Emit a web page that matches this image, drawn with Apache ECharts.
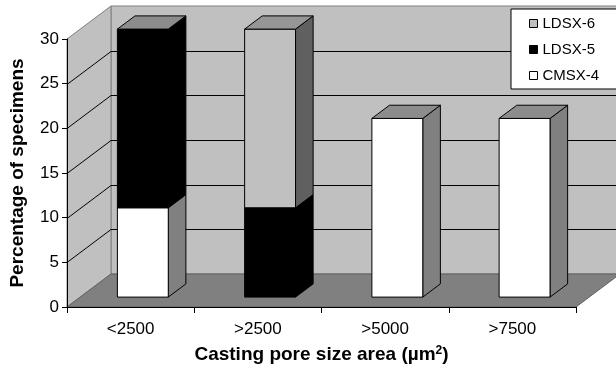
<!DOCTYPE html>
<html>
<head>
<meta charset="utf-8">
<script src="https://cdn.jsdelivr.net/npm/echarts@6/dist/echarts.min.js"></script>
<style>html,body{margin:0;padding:0;background:#fff;}#c{width:616px;height:371px;}</style>
</head>
<body>
<div id="c"></div>
<script>
const categories = ['<2500', '>2500', '>5000', '>7500'];
const cmsx4 = [10, 0, 20, 20];
const ldsx5 = [20, 10, 0, 0];
const ldsx6 = [0, 20, 0, 0];
const yTicks = [0, 5, 10, 15, 20, 25, 30];

const FONT = '"Liberation Sans", Arial, sans-serif';
const DX = 44, DY = -33;      // depth offset of back wall
const F1 = 0.3, F2 = 0.7;     // bar depth position (fraction of full depth)
const BAR_FRAC = 0.4;

const seriesDefs = [
  { name: 'CMSX-4', values: cmsx4, front: '#ffffff', side: '#808080', top: '#8c8c8c' },
  { name: 'LDSX-5', values: ldsx5, front: '#000000', side: '#000000', top: '#8c8c8c' },
  { name: 'LDSX-6', values: ldsx6, front: '#c0c0c0', side: '#606060', top: '#969696' }
];

// stacking
const totals = categories.map((c, i) => seriesDefs.reduce((s, d) => s + d.values[i], 0));
const bases = categories.map(() => 0);
const stacked = seriesDefs.map(d => {
  const data = [];
  categories.forEach((c, i) => {
    const v = d.values[i];
    if (v > 0) {
      const b = bases[i];
      const t = b + v;
      data.push([i, b, t, t >= totals[i] ? 1 : 0]);
      bases[i] = t;
    }
  });
  return data;
});

function wallRender(params, api) {
  const cs = params.coordSys;
  const x0 = cs.x, x1 = cs.x + cs.width;
  const yMin = api.coord([0, yTicks[0]])[1];
  const yMax = api.coord([0, yTicks[yTicks.length - 1]])[1];
  const children = [];
  children.push({ type: 'polygon', shape: { points: [[x0 + DX, yMin + DY], [x1 + DX, yMin + DY], [x1 + DX, yMax + DY], [x0 + DX, yMax + DY]] }, style: { fill: '#c0c0c0', stroke: '#808080', lineWidth: 1 } });
  children.push({ type: 'polygon', shape: { points: [[x0, yMin], [x0, yMax], [x0 + DX, yMax + DY], [x0 + DX, yMin + DY]] }, style: { fill: '#c0c0c0', stroke: '#808080', lineWidth: 1 } });
  children.push({ type: 'polygon', shape: { points: [[x0, yMin], [x1, yMin], [x1 + DX, yMin + DY], [x0 + DX, yMin + DY]] }, style: { fill: '#808080', stroke: '#606060', lineWidth: 1 } });
  yTicks.slice(1, yTicks.length - 1).forEach(v => {
    const y = Math.round(api.coord([0, v])[1]) + 0.5;
    children.push({ type: 'polyline', shape: { points: [[x0, y], [x0 + DX, y + DY], [x1 + DX, y + DY]] }, style: { stroke: '#000', lineWidth: 1, fill: null } });
  });
  return { type: 'group', children: children };
}

function makeBarRender(def) {
  return function (params, api) {
    const i = api.value(0), b = api.value(1), t = api.value(2), isTop = api.value(3);
    const p0 = api.coord([i, b]);
    const p1 = api.coord([i, t]);
    const bw = api.size([1, 0])[0] * BAR_FRAC;
    const cx = p0[0] + F1 * DX - 1;
    const yb = p0[1] + F1 * DY;
    const yt = p1[1] + F1 * DY;
    const xl = cx - bw / 2, xr = cx + bw / 2;
    const ddx = (F2 - F1) * DX, ddy = (F2 - F1) * DY;
    const st = { stroke: '#000', lineWidth: 1 };
    const children = [
      { type: 'polygon', shape: { points: [[xr, yb], [xr, yt], [xr + ddx, yt + ddy], [xr + ddx, yb + ddy]] }, style: Object.assign({ fill: def.side }, st) },
      { type: 'rect', shape: { x: xl, y: yt, width: bw, height: yb - yt }, style: Object.assign({ fill: def.front }, st) }
    ];
    if (isTop) {
      children.push({ type: 'polygon', shape: { points: [[xl, yt], [xr, yt], [xr + ddx, yt + ddy], [xl + ddx, yt + ddy]] }, style: Object.assign({ fill: def.top }, st) });
    }
    return { type: 'group', children: children };
  };
}

const series = [{
  type: 'custom', name: 'walls', z: 1, clip: false, silent: true,
  renderItem: wallRender, data: [[0, 0]]
}];
seriesDefs.forEach((d, k) => {
  series.push({
    type: 'custom', name: d.name, z: 2 + k, clip: false,
    itemStyle: { color: d.front, borderColor: '#000', borderWidth: 1 },
    renderItem: makeBarRender(d), data: stacked[k]
  });
});

const chart = echarts.init(document.getElementById('c'), null, { renderer: 'canvas' });
chart.setOption({
  animation: false,
  backgroundColor: '#fff',
  grid: { left: 63, right: 40, top: 39, bottom: 64 },
  legend: {
    data: ['LDSX-6', 'LDSX-5', 'CMSX-4'],
    orient: 'vertical', left: 511, top: 9,
    padding: [7, 25, 6, 18], itemGap: 11,
    itemWidth: 8, itemHeight: 8, icon: 'rect',
    backgroundColor: '#fff', borderColor: '#000', borderWidth: 1, borderRadius: 0,
    itemStyle: { borderColor: '#000', borderWidth: 1 },
    textStyle: { fontFamily: FONT, fontSize: 15, color: '#000' },
    selectedMode: false
  },
  xAxis: {
    type: 'category', data: categories, z: 10,
    axisLine: { show: true, lineStyle: { color: '#000', width: 1 } },
    axisTick: { show: true, length: 6, alignWithLabel: false, lineStyle: { color: '#000' } },
    axisLabel: { fontFamily: FONT, fontSize: 17, color: '#000', margin: 14 },
    splitLine: { show: false },
    name: '{a|Casting pore size area (µm}{s|2}{a|)}',
    nameLocation: 'middle', nameGap: 38,
    nameTextStyle: {
      rich: {
        a: { fontFamily: FONT, fontSize: 19, fontWeight: 'bold', color: '#000' },
        s: { fontFamily: FONT, fontSize: 12, fontWeight: 'bold', color: '#000', verticalAlign: 'top', padding: [0, 0, 8, 0] }
      }
    }
  },
  yAxis: {
    type: 'value', min: 0, max: 30, interval: 5, z: 10,
    axisLine: { show: true, lineStyle: { color: '#000', width: 1 } },
    axisTick: { show: true, length: 5, lineStyle: { color: '#000' } },
    axisLabel: { fontFamily: FONT, fontSize: 17, color: '#000', margin: 8 },
    splitLine: { show: false },
    name: 'Percentage of specimens',
    nameLocation: 'middle', nameGap: 40, nameRotate: 90,
    nameTextStyle: { fontFamily: FONT, fontSize: 19, fontWeight: 'bold', color: '#000' }
  },
  series: series
});
</script>
</body>
</html>
